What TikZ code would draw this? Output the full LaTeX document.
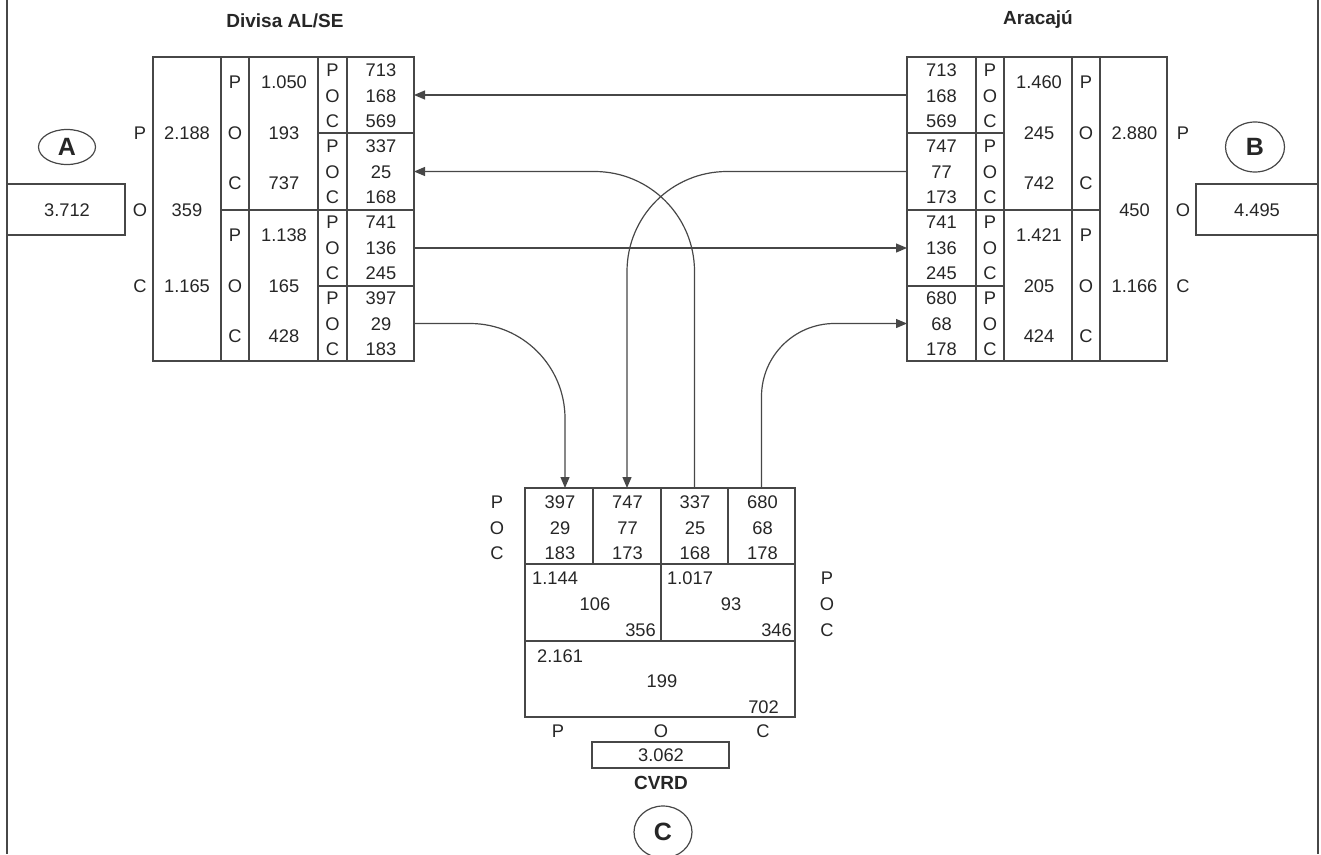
\documentclass[tikz,border=0pt]{standalone}
\usepackage{fontspec}
\setmainfont{Liberation Sans}
\usetikzlibrary{arrows.meta,shapes.geometric}
\begin{document}
\begin{tikzpicture}[x=1pt,y=-1pt,
  ln/.style={line width=1.2pt, draw=black!72},
  cell/.style={ln, rectangle, anchor=north west, inner sep=0pt, outer sep=0pt},
  txt/.style={inner sep=0pt, text=black!85, font=\fontsize{18.3}{20}\selectfont},
  ttl/.style={inner sep=0pt, text=black!85, font=\bfseries\fontsize{19}{22}\selectfont},
  oval/.style={ln, ellipse, inner sep=0pt, text=black!85, font=\bfseries\fontsize{25}{28}\selectfont},
  flow/.style={ln, rounded corners=100pt, -{Triangle[length=11pt,width=9pt]}},
]
\useasboundingbox (0,0) rectangle (1321,854);
% frame
\coordinate (fl1) at (7,0); \coordinate (fl2) at (7,854);
\coordinate (fr1) at (1318,0); \coordinate (fr2) at (1318,854);
\draw[ln] (fl1) -- (fl2);
\draw[ln] (fr1) -- (fr2);

% titles
\node[ttl] (tL) at (285,21) {Divisa AL/SE};
\node[ttl] (tR) at (1038,20) {Aracajú};

% ---------- left block ----------
\node[cell, minimum width=261pt, minimum height=304pt] (Lout) at (153,57) {};
\draw[ln] (221,57) -- (221,361);
\draw[ln] (249,57) -- (249,361);
\draw[ln] (347,57) -- (347,361);
\draw[ln] (221,210) -- (318,210);
\node[cell, minimum width=96pt, minimum height=76pt] (L1) at (318,57) {};
\node[cell, minimum width=96pt, minimum height=77pt] (L2) at (318,133) {};
\node[cell, minimum width=96pt, minimum height=76pt] (L3) at (318,210) {};
\node[cell, minimum width=96pt, minimum height=75pt] (L4) at (318,286) {};

\foreach \t/\y [count=\i] in {P/133,O/210,C/286}
  \node[txt] (Lo\i) at (140,\y) {\t};
\foreach \t/\y [count=\i] in {2.188/133,359/210,1.165/286}
  \node[txt] (La\i) at (187,\y) {\t};
\foreach \t/\y [count=\i] in {P/82,O/133,C/183,P/235,O/286,C/336}
  \node[txt] (Lb\i) at (235,\y) {\t};
\foreach \t/\y [count=\i] in {1.050/82,193/133,737/183,1.138/235,165/286,428/336}
  \node[txt] (Lc\i) at (284,\y) {\t};
\foreach \t/\y [count=\i] in {P/70,O/96,C/121,P/146,O/172,C/197,P/222,O/248,C/273,P/298,O/324,C/349}
  \node[txt] (Ld\i) at (332.5,\y) {\t};
\foreach \t/\y [count=\i] in {713/70,168/96,569/121,337/146,25/172,168/197,741/222,136/248,245/273,397/298,29/324,183/349}
  \node[txt] (Le\i) at (381,\y) {\t};

% box A
\node[cell, minimum width=118pt, minimum height=51pt] (boxA) at (7,184) {};
\node[txt] (vA) at (67,210) {3.712};
\node[oval, minimum width=57pt, minimum height=35pt] (cA) at (67,147) {A};

% ---------- right block ----------
\node[cell, minimum width=260pt, minimum height=304pt] (Rout) at (907,57) {};
\draw[ln] (976,57) -- (976,361);
\draw[ln] (1072,57) -- (1072,361);
\draw[ln] (1100,57) -- (1100,361);
\draw[ln] (1004,210) -- (1100,210);
\node[cell, minimum width=97pt, minimum height=76pt] (R1) at (907,57) {};
\node[cell, minimum width=97pt, minimum height=77pt] (R2) at (907,133) {};
\node[cell, minimum width=97pt, minimum height=76pt] (R3) at (907,210) {};
\node[cell, minimum width=97pt, minimum height=75pt] (R4) at (907,286) {};

\foreach \t/\y [count=\i] in {713/70,168/96,569/121,747/146,77/172,173/197,741/222,136/248,245/273,680/298,68/324,178/349}
  \node[txt] (Ra\i) at (941.5,\y) {\t};
\foreach \t/\y [count=\i] in {P/70,O/96,C/121,P/146,O/172,C/197,P/222,O/248,C/273,P/298,O/324,C/349}
  \node[txt] (Rb\i) at (990,\y) {\t};
\foreach \t/\y [count=\i] in {1.460/82,245/133,742/183,1.421/235,205/286,424/336}
  \node[txt] (Rc\i) at (1039,\y) {\t};
\foreach \t/\y [count=\i] in {P/82,O/133,C/183,P/235,O/286,C/336}
  \node[txt] (Rd\i) at (1086,\y) {\t};
\foreach \t/\y [count=\i] in {2.880/133,450/210,1.166/286}
  \node[txt] (Re\i) at (1134.5,\y) {\t};
\foreach \t/\y [count=\i] in {P/133,O/210,C/286}
  \node[txt] (Ro\i) at (1183,\y) {\t};

% box B
\node[cell, minimum width=122pt, minimum height=51pt] (boxB) at (1196,184) {};
\node[txt] (vB) at (1257,210) {4.495};
\node[oval, minimum width=59pt, minimum height=50pt] (cB) at (1255,147) {B};

% ---------- bottom block ----------
\node[cell, minimum width=68pt, minimum height=76pt] (B1) at (525,488) {};
\node[cell, minimum width=68pt, minimum height=76pt] (B2) at (593,488) {};
\node[cell, minimum width=67pt, minimum height=76pt] (B3) at (661,488) {};
\node[cell, minimum width=67pt, minimum height=76pt] (B4) at (728,488) {};
\node[cell, minimum width=136pt, minimum height=77pt] (M1) at (525,564) {};
\node[cell, minimum width=134pt, minimum height=77pt] (M2) at (661,564) {};
\node[cell, minimum width=270pt, minimum height=76pt] (Bot) at (525,641) {};

\foreach \t/\y [count=\i] in {P/502,O/528,C/553}
  \node[txt] (Bl\i) at (497,\y) {\t};
\foreach \a/\b/\c/\x [count=\i] in {397/29/183/560,747/77/173/627.5,337/25/168/695,680/68/178/762.5}{
  \node[txt] (Bx\i a) at (\x,502) {\a};
  \node[txt] (Bx\i b) at (\x,528) {\b};
  \node[txt] (Bx\i c) at (\x,553) {\c};
}
\node[txt, anchor=west] (m1a) at (532,578) {1.144};
\node[txt] (m1b) at (595,604) {106};
\node[txt, anchor=east] (m1c) at (656,630) {356};
\node[txt, anchor=west] (m2a) at (667,578) {1.017};
\node[txt] (m2b) at (731,604) {93};
\node[txt, anchor=east] (m2c) at (792,630) {346};
\foreach \t/\y [count=\i] in {P/578,O/604,C/630}
  \node[txt] (Mr\i) at (827,\y) {\t};
\node[txt, anchor=west] (ba) at (537,656) {2.161};
\node[txt] (bb) at (662,681) {199};
\node[txt, anchor=east] (bc) at (779,707) {702};
\node[txt] (bp) at (558,731) {P};
\node[txt] (bo) at (661,731) {O};
\node[txt] (bcc) at (763,731) {C};

\node[cell, minimum width=137pt, minimum height=26pt] (boxC) at (592,742) {};
\node[txt] (vC) at (661,755) {3.062};
\node[ttl] (cvrd) at (661,783) {CVRD};
\node[oval, minimum width=58pt, minimum height=52pt] (cC) at (663,832) {C};

% ---------- connectors ----------
\draw[flow] (R1.west) -- (L1.east);
\draw[flow] (R2.west) -| (B2.north);
\draw[flow] (B3.north) |- (L2.east);
\draw[flow] (L3.east) -- (R3.west);
\draw[flow, rounded corners=95pt] (L4.east) -| ([xshift=6pt]B1.north);
\draw[flow, rounded corners=73pt] (B4.north) |- (R4.west);
\end{tikzpicture}
\end{document}
